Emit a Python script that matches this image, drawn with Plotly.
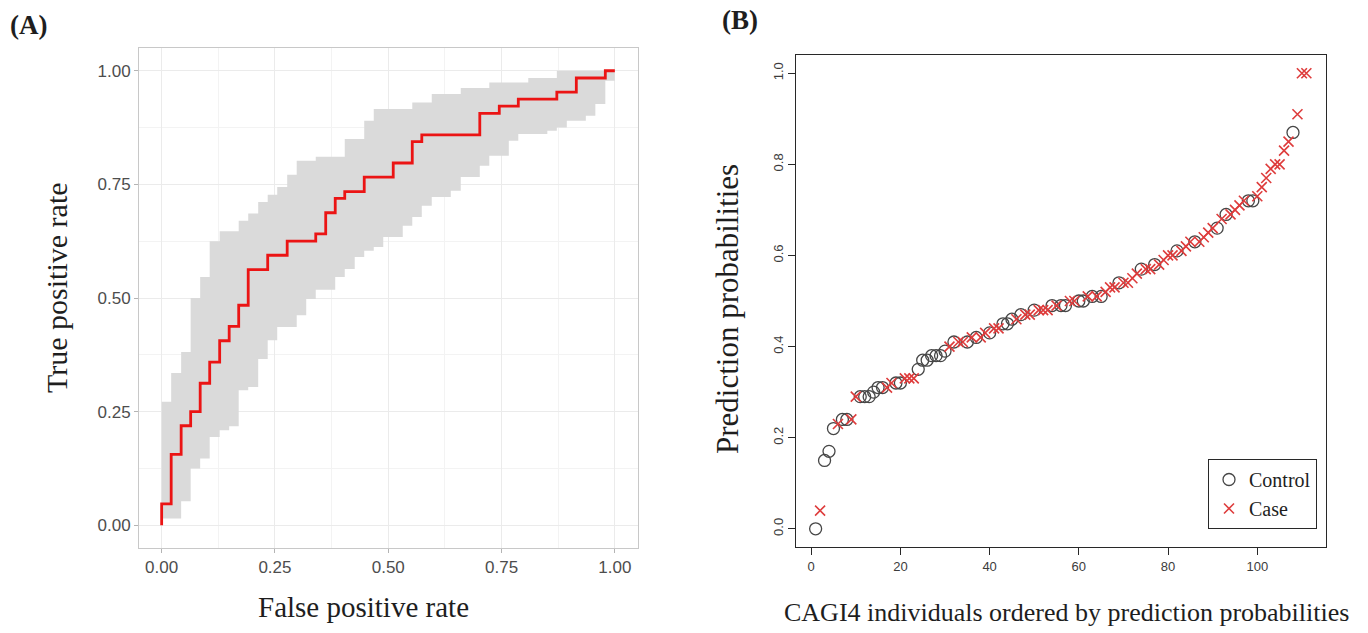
import plotly.graph_objects as go

# ---------------- Panel A: ROC curve with confidence band ----------------
roc_fpr = [0, 0, 0.021, 0.043, 0.064, 0.085, 0.106, 0.128, 0.149, 0.170, 0.191,
           0.234, 0.277, 0.340, 0.362, 0.383, 0.404, 0.447, 0.511, 0.553, 0.574,
           0.702, 0.745, 0.787, 0.872, 0.915, 0.979, 1.0]
roc_tpr = [0, 0.047, 0.156, 0.219, 0.25, 0.3125, 0.359, 0.406, 0.4375, 0.484, 0.5625,
           0.594, 0.625, 0.641, 0.6875, 0.719, 0.734, 0.766, 0.797, 0.844, 0.859,
           0.906, 0.922, 0.9375, 0.953, 0.984, 1.0, 1.0]

band_upper_x = [0, 0.021, 0.043, 0.064, 0.085, 0.106, 0.128, 0.170, 0.191, 0.213,
                0.234, 0.255, 0.277, 0.298, 0.340, 0.404, 0.447, 0.468, 0.553, 0.596,
                0.660, 0.723, 0.809, 0.872, 1.0]
band_upper_y = [0.272, 0.335, 0.381, 0.500, 0.546, 0.625, 0.647, 0.670, 0.686, 0.711,
                0.727, 0.744, 0.771, 0.802, 0.811, 0.850, 0.890, 0.916, 0.930, 0.949,
                0.962, 0.974, 0.984, 1.0, 1.0]
band_lower_x = [0, 0.043, 0.064, 0.085, 0.106, 0.128, 0.149, 0.170, 0.191, 0.213,
                0.234, 0.255, 0.298, 0.319, 0.340, 0.383, 0.404, 0.426, 0.447, 0.468,
                0.489, 0.532, 0.553, 0.574, 0.596, 0.638, 0.660, 0.702, 0.723, 0.766,
                0.787, 0.851, 0.872, 0.894, 0.936, 0.957, 0.979, 1.0]
band_lower_y = [0.015, 0.053, 0.125, 0.147, 0.194, 0.209, 0.218, 0.297, 0.304, 0.366,
                0.407, 0.436, 0.462, 0.498, 0.518, 0.546, 0.564, 0.590, 0.604, 0.612,
                0.634, 0.659, 0.678, 0.703, 0.722, 0.736, 0.766, 0.791, 0.813, 0.846,
                0.861, 0.868, 0.875, 0.890, 0.901, 0.927, 0.978, 0.978]

roc_ticks = [0, 0.25, 0.5, 0.75, 1.0]
roc_ticktext = ["0.00", "0.25", "0.50", "0.75", "1.00"]

# ---------------- Panel B: ordered prediction probabilities ----------------
pred_prob = [0.00, 0.04, 0.15, 0.17, 0.22, 0.23, 0.24, 0.24, 0.24, 0.29,
             0.29, 0.29, 0.29, 0.30, 0.31, 0.31, 0.31, 0.32, 0.32, 0.32,
             0.33, 0.33, 0.33, 0.35, 0.37, 0.37, 0.38, 0.38, 0.38, 0.39,
             0.40, 0.41, 0.41, 0.41, 0.41, 0.42, 0.42, 0.42, 0.43, 0.43,
             0.44, 0.44, 0.45, 0.45, 0.46, 0.46, 0.47, 0.47, 0.47, 0.48,
             0.48, 0.48, 0.48, 0.49, 0.49, 0.49, 0.49, 0.50, 0.50, 0.50,
             0.50, 0.51, 0.51, 0.51, 0.51, 0.52, 0.53, 0.53, 0.54, 0.54,
             0.54, 0.55, 0.56, 0.57, 0.57, 0.57, 0.58, 0.58, 0.59, 0.60,
             0.60, 0.61, 0.61, 0.62, 0.63, 0.63, 0.63, 0.64, 0.65, 0.66,
             0.66, 0.68, 0.69, 0.69, 0.70, 0.71, 0.72, 0.72, 0.72, 0.73,
             0.75, 0.77, 0.79, 0.80, 0.80, 0.83, 0.85, 0.87, 0.91, 1.00,
             1.00]
group = ["Control", "Case", "Control", "Control", "Control", "Case", "Control", "Control", "Case", "Case",
         "Control", "Control", "Control", "Control", "Control", "Control", "Case", "Case", "Control", "Control",
         "Case", "Case", "Case", "Control", "Control", "Control", "Control", "Control", "Control", "Control",
         "Case", "Control", "Case", "Case", "Control", "Case", "Control", "Case", "Case", "Control",
         "Case", "Case", "Control", "Control", "Control", "Case", "Control", "Case", "Case", "Control",
         "Case", "Case", "Case", "Control", "Case", "Control", "Control", "Case", "Case", "Control",
         "Control", "Case", "Control", "Case", "Control", "Case", "Case", "Case", "Control", "Case",
         "Case", "Case", "Case", "Control", "Case", "Case", "Control", "Case", "Case", "Case",
         "Case", "Control", "Case", "Case", "Case", "Control", "Case", "Case", "Case", "Case",
         "Control", "Case", "Control", "Case", "Case", "Case", "Case", "Control", "Control", "Case",
         "Case", "Case", "Case", "Case", "Case", "Case", "Case", "Control", "Case", "Case",
         "Case"]
rank = list(range(1, len(pred_prob) + 1))
b_xticks = [0, 20, 40, 60, 80, 100]
b_yticks = [0.0, 0.2, 0.4, 0.6, 0.8, 1.0]
b_yticktext = ["0.0", "0.2", "0.4", "0.6", "0.8", "1.0"]

W, H = 1368, 633
SERIF = "Liberation Serif, Times New Roman, serif"
SANS = "Liberation Sans, Arial, sans-serif"

fig = go.Figure()

# Panel A
fig.add_trace(go.Scatter(x=band_upper_x, y=band_upper_y, mode="lines",
                         line=dict(shape="hv", width=0, color="rgba(0,0,0,0)"),
                         xaxis="x", yaxis="y", showlegend=False, hoverinfo="skip"))
fig.add_trace(go.Scatter(x=band_lower_x, y=band_lower_y, mode="lines",
                         line=dict(shape="hv", width=0, color="rgba(0,0,0,0)"),
                         fill="tonexty", fillcolor="rgb(218,218,218)",
                         xaxis="x", yaxis="y", showlegend=False, hoverinfo="skip"))
fig.add_trace(go.Scatter(x=roc_fpr, y=roc_tpr, mode="lines",
                         line=dict(shape="hv", width=2.8, color="rgb(235,20,20)"),
                         xaxis="x", yaxis="y", showlegend=False))

# Panel B
ctrl_x = [r for r, g in zip(rank, group) if g == "Control"]
ctrl_y = [p for p, g in zip(pred_prob, group) if g == "Control"]
case_x = [r for r, g in zip(rank, group) if g == "Case"]
case_y = [p for p, g in zip(pred_prob, group) if g == "Case"]
fig.add_trace(go.Scatter(x=ctrl_x, y=ctrl_y, mode="markers", name="Control",
                         marker=dict(symbol="circle-open", size=12, color="rgb(70,70,70)",
                                     line=dict(width=1.3, color="rgb(70,70,70)")),
                         xaxis="x2", yaxis="y2"))
fig.add_trace(go.Scatter(x=case_x, y=case_y, mode="markers", name="Case",
                         marker=dict(symbol="x-thin", size=10, color="rgb(222,60,60)",
                                     line=dict(width=1.6, color="rgb(222,60,60)")),
                         xaxis="x2", yaxis="y2"))

a_x0, a_x1, a_y0, a_y1 = 139, 637.5, 48, 548
b_x0, b_x1, b_y0, b_y1 = 796, 1326, 55, 547

fig.update_layout(
    width=W, height=H, autosize=False,
    margin=dict(l=0, r=0, t=0, b=0),
    paper_bgcolor="white", plot_bgcolor="white",
    xaxis=dict(domain=[a_x0 / W, a_x1 / W], range=[-0.05, 1.05],
               tickvals=roc_ticks, ticktext=roc_ticktext,
               ticks="outside", ticklen=4, tickcolor="rgb(180,180,180)",
               tickfont=dict(family=SANS, size=17, color="rgb(77,77,77)"),
               showline=True, mirror=True, linecolor="rgb(200,200,200)", linewidth=1,
               showgrid=True, gridcolor="rgb(235,235,235)", gridwidth=1,
               minor=dict(tick0=0.125, dtick=0.25, showgrid=True,
                          gridcolor="rgb(243,243,243)", gridwidth=0.6),
               zeroline=False, anchor="y"),
    yaxis=dict(domain=[1 - a_y1 / H, 1 - a_y0 / H], range=[-0.05, 1.05],
               tickvals=roc_ticks, ticktext=roc_ticktext,
               ticks="outside", ticklen=4, tickcolor="rgb(180,180,180)",
               tickfont=dict(family=SANS, size=17, color="rgb(77,77,77)"),
               showline=True, mirror=True, linecolor="rgb(200,200,200)", linewidth=1,
               showgrid=True, gridcolor="rgb(235,235,235)", gridwidth=1,
               minor=dict(tick0=0.125, dtick=0.25, showgrid=True,
                          gridcolor="rgb(243,243,243)", gridwidth=0.6),
               zeroline=False, anchor="x"),
    xaxis2=dict(domain=[b_x0 / W, b_x1 / W], range=[-3.4, 115.4],
                tickvals=b_xticks, ticks="outside", ticklen=7, tickcolor="rgb(40,40,40)",
                tickfont=dict(family=SANS, size=13, color="rgb(60,60,60)"),
                showline=True, mirror=True, linecolor="rgb(40,40,40)", linewidth=1,
                showgrid=False, zeroline=False, anchor="y2"),
    yaxis2=dict(domain=[1 - b_y1 / H, 1 - b_y0 / H], range=[-0.04, 1.04],
                tickvals=b_yticks, ticktext=b_yticktext, tickangle=-90,
                ticks="outside", ticklen=7, tickcolor="rgb(40,40,40)",
                tickfont=dict(family=SANS, size=13, color="rgb(60,60,60)"),
                showline=True, mirror=True, linecolor="rgb(40,40,40)", linewidth=1,
                showgrid=False, zeroline=False, anchor="x2"),
    showlegend=True,
    legend=dict(x=1208 / W, y=1 - 459 / H, xanchor="left", yanchor="top",
                traceorder="normal",
                bgcolor="white", bordercolor="rgb(40,40,40)", borderwidth=1,
                font=dict(family=SERIF, size=20, color="rgb(30,30,30)"),
                itemwidth=30, tracegroupgap=0),
)

annotations = [
    dict(text="<b>(A)</b>", x=8, y=25, size=27, xanchor="left"),
    dict(text="<b>(B)</b>", x=720, y=20, size=27, xanchor="left"),
    dict(text="False positive rate", x=363, y=607, size=29),
    dict(text="True positive rate", x=56, y=288, size=30, textangle=-90),
    dict(text="CAGI4 individuals ordered by prediction probabilities", x=1066, y=612, size=26),
    dict(text="Prediction probabilities", x=727, y=309, size=31, textangle=-90),
]
for a in annotations:
    fig.add_annotation(text=a["text"], x=a["x"] / W, y=1 - a["y"] / H,
                       xref="paper", yref="paper", showarrow=False,
                       xanchor=a.get("xanchor", "center"), yanchor="middle",
                       font=dict(family=SERIF, size=a["size"], color="rgb(30,30,30)"),
                       textangle=a.get("textangle", 0))

fig.write_html("out.html",
               config={"displayModeBar": False},
               post_script="document.body.style.margin='0';document.body.style.overflow='hidden';")
